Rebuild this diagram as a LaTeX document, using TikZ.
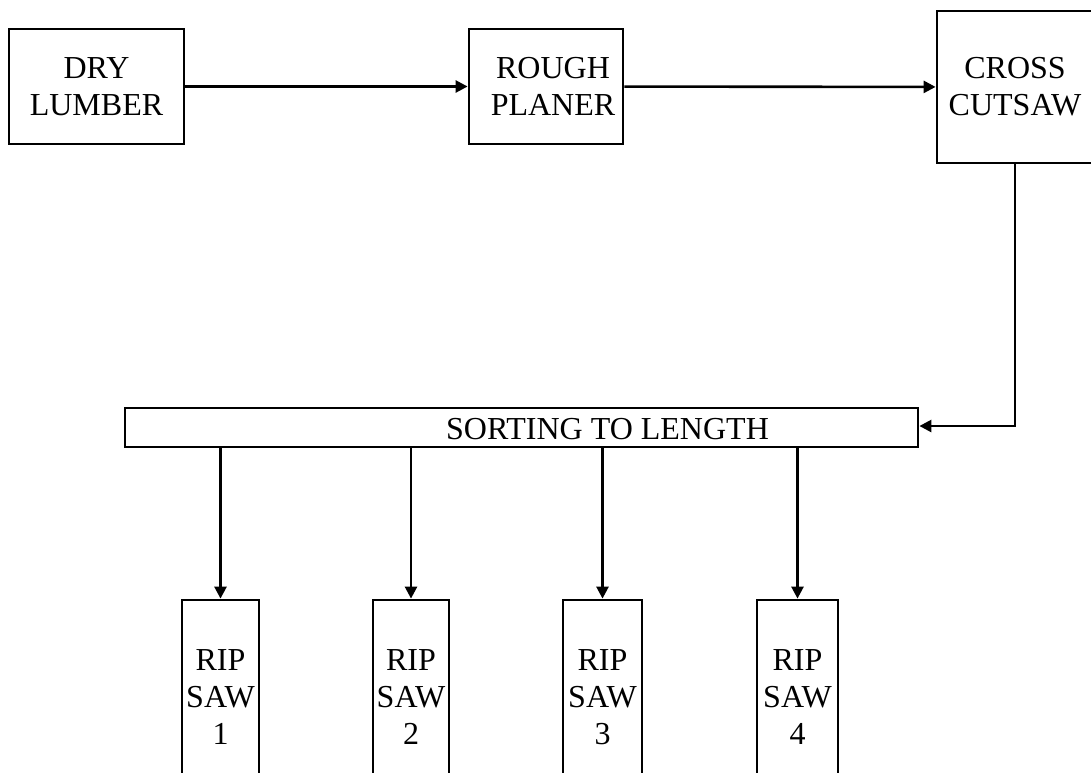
\documentclass[tikz,border=0pt]{standalone}
\usepackage{fontspec}
\setmainfont{Liberation Serif}
\usetikzlibrary{arrows.meta}
\begin{document}
\begin{tikzpicture}[x=1pt,y=-1pt,
  box/.style={draw, line width=2.8pt, inner sep=0pt, align=center,
    font=\fontsize{32}{37}\selectfont},
  flow/.style={line width=2.6pt, -{Triangle[length=12pt,width=12pt]}}]
\useasboundingbox (0,0) rectangle (1091,772);
\clip (0,0) rectangle (1091,772);
\node[box, minimum width=175pt, minimum height=115pt] (dry) at (96.5,86.5) {DRY\\LUMBER};
\node[box, minimum width=154pt, minimum height=115pt] (rough) at (546,86.5) {\hspace*{14pt}ROUGH\\\hspace*{14pt}PLANER};
\node[box, minimum width=156pt, minimum height=152pt] (cross) at (1015,87) {CROSS\\CUTSAW};
\node[box, minimum width=793pt, minimum height=39pt,
  label={[font=\fontsize{32}{37}\selectfont, xshift=86pt, yshift=-2pt]center:SORTING TO LENGTH}] (sort) at (521.5,427.5) {};
\node[box, minimum width=77pt, minimum height=194pt] (rip1) at (220.5,697) {RIP\\SAW\\1};
\node[box, minimum width=76pt, minimum height=194pt] (rip2) at (411,697) {RIP\\SAW\\2};
\node[box, minimum width=79pt, minimum height=194pt] (rip3) at (602.5,697) {RIP\\SAW\\3};
\node[box, minimum width=81pt, minimum height=194pt] (rip4) at (797.5,697) {RIP\\SAW\\4};
\draw[flow] (dry) -- (rough);
\draw[flow] (rough) -- (cross);
\draw[flow] (cross.south) |- ([yshift=1.5pt]sort.east);
\foreach \r in {rip1,rip2,rip3,rip4}
  \draw[flow] (sort.south -| \r.north) -- (\r.north);
\end{tikzpicture}
\end{document}
